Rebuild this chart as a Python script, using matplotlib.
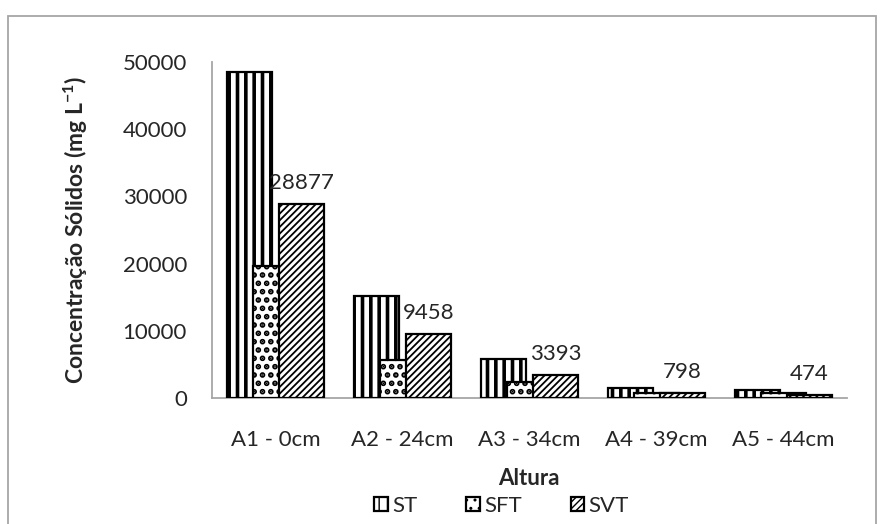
import numpy as np
import matplotlib
matplotlib.use('Agg')
import matplotlib.pyplot as plt
from matplotlib.patches import Rectangle

# solids per sampling height (mg/L)
alturas = ['A1 - 0cm', 'A2 - 24cm', 'A3 - 34cm', 'A4 - 39cm', 'A5 - 44cm']
st = [48500, 15150, 5800, 1520, 1180]
sft = [19600, 5700, 2400, 740, 700]
svt = [28877, 9458, 3393, 798, 474]
series = ['ST', 'SFT', 'SVT']

plt.rcParams['font.family'] = ['Lato', 'DejaVu Sans']
plt.rcParams['mathtext.fontset'] = 'custom'
plt.rcParams['mathtext.rm'] = 'Lato:bold'
plt.rcParams['mathtext.default'] = 'rm'

txt = '#262626'
fig = plt.figure(figsize=(8.83, 5.24), dpi=100)
ax = fig.add_axes([0.240, 0.2405, 0.719, 0.6412])

x = np.arange(len(alturas))
w = 0.354
off = 0.205

#each series gets its own hatch pattern and hatch thickness
styles = [('||', 2.6), ('..', 2.8), ('/////', 1.3)]
handles = []
for k, vals in enumerate([st, sft, svt]):
    hatch, hlw = styles[k]
    with plt.rc_context({'hatch.linewidth': hlw, 'hatch.color': 'black'}):
        bars = ax.bar(x + (k - 1) * off, vals, width=w, color='white',
                      edgecolor='black', linewidth=1.6, hatch=hatch,
                      zorder=2 + k, label=series[k])
    handles.append(bars)

ax.bar_label(handles[2], labels=[str(v) for v in svt], padding=8,
             fontsize=16, color=txt, zorder=10)

ax.set_xlim(-0.5, len(alturas) - 0.5)
ax.set_ylim(0, 50000)
ax.set_yticks(np.arange(0, 50001, 10000))
ax.set_xticks(x)
ax.set_xticklabels(alturas)

for s in ['top', 'right']:
    ax.spines[s].set_visible(False)
for s in ['left', 'bottom']:
    ax.spines[s].set_color('#a6a6a6')
    ax.spines[s].set_linewidth(1.3)
    ax.spines[s].set_zorder(1)

ax.tick_params(axis='both', length=0, labelsize=16, labelcolor=txt)
ax.tick_params(axis='y', pad=18)
ax.tick_params(axis='x', pad=23)

ax.set_ylabel(r'Concentração Sólidos (mg L$^{-1}$)', fontsize=16.5,
              fontweight='bold', color=txt)
ax.yaxis.set_label_coords(-0.192, 0.5)
ax.set_xlabel('Altura', fontsize=16, fontweight='bold', color=txt)
ax.xaxis.set_label_coords(0.5, -0.24)
ax.xaxis.label.set_va('center')

leg = fig.legend(handles=handles, labels=series, loc='center',
                 bbox_to_anchor=(0.568, 0.034), ncol=3, frameon=False,
                 fontsize=16, handlelength=0.6, handleheight=0.6,
                 handletextpad=0.2, columnspacing=2.2, labelcolor=txt)

# chart area border
fig.patches.append(Rectangle((8 / 883, -0.02), 868 / 883, 0.995 - 13 / 524 + 0.02,
                             transform=fig.transFigure, fill=False,
                             edgecolor='#a6a6a6', linewidth=1.3))

fig.savefig('out.png', dpi=100)
